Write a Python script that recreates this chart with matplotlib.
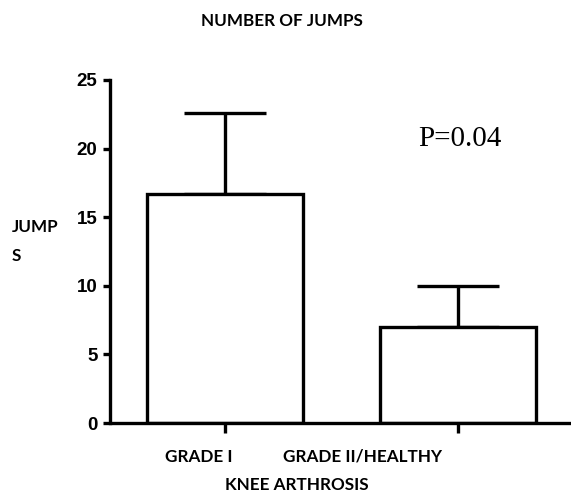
import matplotlib
matplotlib.use("Agg")
import matplotlib.pyplot as plt

# data
groups = ["GRADE I", "GRADE II/HEALTHY"]
means = [16.7, 7.0]
sd_up = [5.9, 3.0]
yticks = [0, 5, 10, 15, 20, 25]

W, H = 571, 493
fig = plt.figure(figsize=(W / 100, H / 100), dpi=100)
ax = fig.add_axes([110 / W, 70 / H, (W - 110) / W, 343 / H])

lw = 2.4
x = list(range(len(means)))
ax.bar(x, means, width=0.67, facecolor="white", edgecolor="black", linewidth=lw, zorder=2)
ax.errorbar(x, means, yerr=[[0] * len(means), sd_up], fmt="none", ecolor="black",
            elinewidth=lw, capsize=29.5, capthick=lw, zorder=1)

ax.set_xlim(-0.494, 1.485)
ax.set_ylim(0, 25)
ax.set_yticks(yticks)
ax.set_yticklabels([str(t) for t in yticks], fontfamily="Liberation Sans",
                   fontweight="bold", fontsize=13.5)
ax.set_xticks(x)
ax.set_xticklabels([])

for s in ["top", "right"]:
    ax.spines[s].set_visible(False)
for s in ["left", "bottom"]:
    ax.spines[s].set_linewidth(lw)
ax.spines["bottom"].set_capstyle("butt")
ax.tick_params(axis="y", length=5, width=lw, pad=4)
ax.tick_params(axis="x", length=7, width=lw)
ax.patch.set_visible(False)

lab = dict(fontfamily="Lato", fontweight="bold", fontsize=12.3)
fig.text(282 / W, 1 - 21 / H, "NUMBER OF JUMPS", ha="center", va="center", **lab)
fig.text(12 / W, 1 - 227 / H, "JUMP", ha="left", va="center", **lab)
fig.text(12 / W, 1 - 256 / H, "S", ha="left", va="center", **lab)
fig.text(165 / W, 1 - 457 / H, groups[0], ha="left", va="center", **lab)
fig.text(283 / W, 1 - 457 / H, groups[1], ha="left", va="center", **lab)
fig.text(297 / W, 1 - 485 / H, "KNEE ARTHROSIS", ha="center", va="center", **lab)

fig.text(460 / W, 1 - 139 / H, "P=0.04", ha="center", va="center",
         fontfamily="Liberation Serif", fontsize=21)

fig.savefig("out.png", dpi=100)
